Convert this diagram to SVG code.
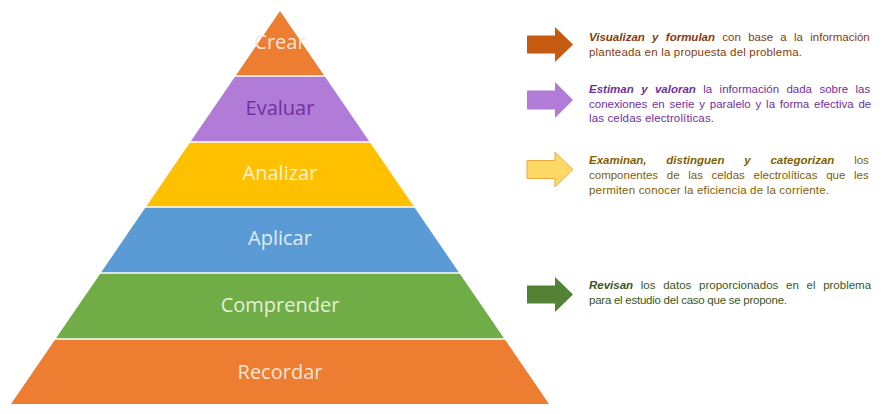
<svg xmlns="http://www.w3.org/2000/svg" width="884" height="414" viewBox="0 0 884 414">
<style>
.lvl{font-family:"Open Sans","Noto Sans",sans-serif;font-size:20px;text-anchor:middle}
.sep{stroke:#ffffff;stroke-width:1.6}
.t{font-family:"Liberation Sans",Arial,sans-serif;font-size:11.5px}
.b{font-weight:bold;font-style:italic}
.o{fill:#843C0C}.p{fill:#7030A0}.y{fill:#7F6000}.g{fill:#385723}
</style>
<rect width="884" height="414" fill="#ffffff"/>
<g id="crear"><polygon points="280,11 324.5,76 235.5,76" fill="#ED7D31"/><text class="lvl" x="280" y="48.5" font-size="15" fill="#FBE5D6">Crear</text></g>
<g id="evaluar"><polygon points="235.5,76 324.5,76 369.7,142 190.3,142" fill="#B07CD8"/><text class="lvl" x="280" y="115" fill="#7030A0">Evaluar</text></g>
<g id="analizar"><polygon points="190.3,142 369.7,142 414.2,207 145.8,207" fill="#FFC000"/><text class="lvl" x="280" y="180" fill="#FFF2CC">Analizar</text></g>
<g id="aplicar"><polygon points="145.8,207 414.2,207 459.3,273 100.7,273" fill="#5B9BD5"/><text class="lvl" x="280" y="245" fill="#DEEBF7">Aplicar</text></g>
<g id="comprender"><polygon points="100.7,273 459.3,273 504.5,339 55.5,339" fill="#70AD47"/><text class="lvl" x="280" y="312" fill="#E2F0D9">Comprender</text></g>
<g id="recordar"><polygon points="55.5,339 504.5,339 549,404 11,404" fill="#ED7D31"/><text class="lvl" x="280" y="379" fill="#FBE5D6">Recordar</text></g>
<g id="separators">
<line class="sep" x1="230" y1="76" x2="330" y2="76"/>
<line class="sep" x1="185" y1="142" x2="375" y2="142"/>
<line class="sep" x1="140" y1="207" x2="420" y2="207"/>
<line class="sep" x1="95" y1="273" x2="465" y2="273"/>
<line class="sep" x1="50" y1="339" x2="510" y2="339"/>
</g>
<g id="connectors">
<polygon points="527,35.5 555,35.5 555,27 573,44.5 555,62 555,53.5 527,53.5" fill="#C55A11"/>
<polygon points="527,90.5 555,90.5 555,82 573,100 555,118 555,109.5 527,109.5" fill="#B07CD8"/>
<polygon points="527,160.5 555,160.5 555,152 573,169.5 555,187 555,178.5 527,178.5" fill="#FFD966" stroke="#F0A840" stroke-width="1"/>
<polygon points="527,285.5 555,285.5 555,277 573,294.5 555,312 555,303.5 527,303.5" fill="#548235"/>
</g>
<g id="text-crear" class="t o">
<text x="589" y="41" word-spacing="4.1"><tspan class="b">Visualizan y formulan</tspan> con base a la información</text>
<text x="589" y="56" textLength="213" lengthAdjust="spacing">planteada en la propuesta del problema.</text>
</g>
<g id="text-evaluar" class="t p">
<text x="589" y="93" word-spacing="4.2"><tspan class="b">Estiman y valoran</tspan> la información dada sobre las</text>
<text x="589" y="107.5" word-spacing="1.6">conexiones en serie y paralelo y la forma efectiva de</text>
<text x="589" y="122" textLength="125" lengthAdjust="spacing">las celdas electrolíticas.</text>
</g>
<g id="text-analizar" class="t y">
<text x="589" y="164" word-spacing="16.6"><tspan class="b">Examinan, distinguen y categorizan</tspan> los</text>
<text x="589" y="179" word-spacing="5.5">componentes de las celdas electrolíticas que les</text>
<text x="589" y="194" textLength="240" lengthAdjust="spacing">permiten conocer la eficiencia de la corriente.</text>
</g>
<g id="text-comprender" class="t g">
<text x="589" y="289" word-spacing="4.5"><tspan class="b">Revisan</tspan> los datos proporcionados en el problema</text>
<text x="589" y="304" textLength="198" lengthAdjust="spacing">para el estudio del caso que se propone.</text>
</g>
</svg>
